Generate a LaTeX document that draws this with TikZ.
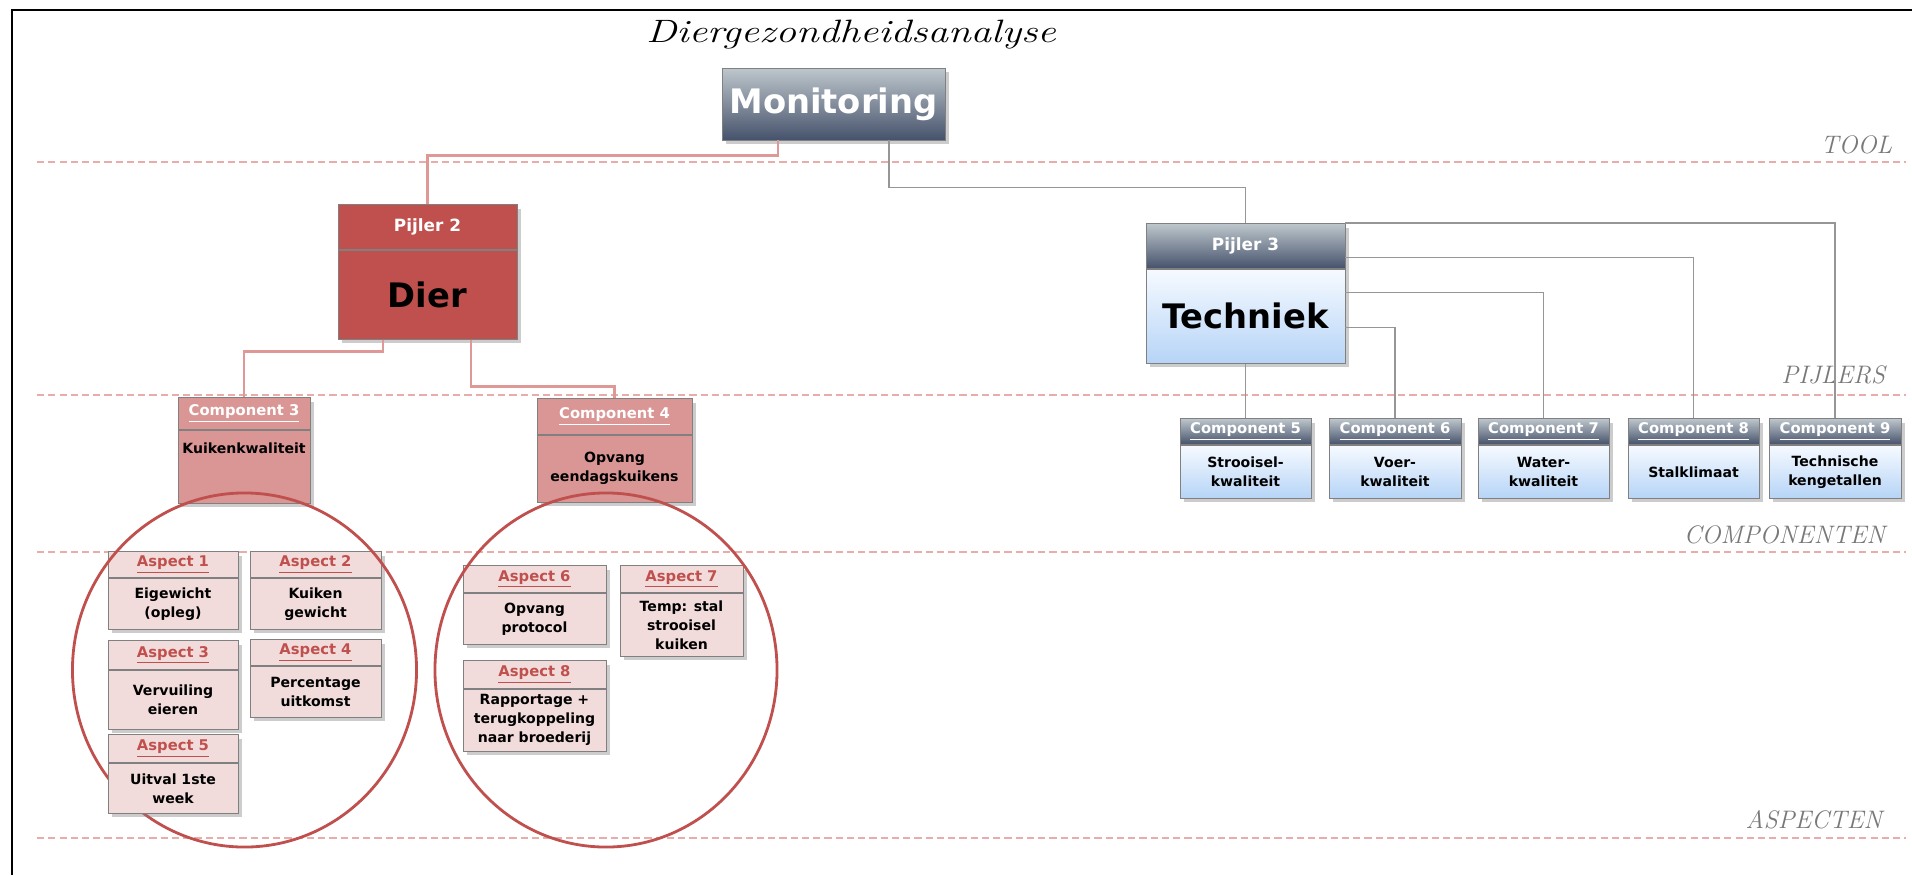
\documentclass[tikz,border=0pt]{standalone}
\usepackage{fontspec}
\newfontfamily\boxfont{DejaVu Sans}
\usepackage{graphicx}
\usepackage{tikz}
\usetikzlibrary{shadows}
\definecolor{dierred}{RGB}{192, 80, 77}
\definecolor{comppink}{RGB}{217, 150, 148}
\definecolor{aspfill}{RGB}{242, 220, 219}
\definecolor{linkred}{RGB}{222, 152, 150}
\definecolor{linkgrey}{RGB}{150, 150, 150}
\definecolor{dashred}{RGB}{232, 172, 170}
\definecolor{slatetop}{RGB}{190, 199, 204}
\definecolor{slatebot}{RGB}{70, 82, 108}
\definecolor{bluetop}{RGB}{246, 250, 255}
\definecolor{bluebot}{RGB}{182, 212, 247}
\definecolor{boxline}{RGB}{128, 128, 128}
\definecolor{tiergray}{RGB}{120, 120, 120}
\newlength\pxu
\setlength\pxu{0.025cm}

\tikzset{
  wh/.style 2 args={minimum width=#1*\pxu, minimum height=#2*\pxu},
  panel/.style={draw=boxline, line width=0.6pt, align=center, inner sep=1pt, anchor=north,
    drop shadow={opacity=0.4, shadow xshift=3pt, shadow yshift=-3pt}},
  slate/.style={top color=slatetop, bottom color=slatebot},
  sky/.style={top color=bluetop, bottom color=bluebot},
  hugefont/.style={font=\boxfont\bfseries\fontsize{24}{28}\selectfont},
  midfont/.style={font=\boxfont\bfseries\fontsize{12}{14}\selectfont},
  hdrfont/.style={font=\boxfont\bfseries\fontsize{10.5}{12}\selectfont},
  txtfont/.style={font=\boxfont\bfseries\fontsize{10}{13.5}\selectfont},
  pinkhead/.style={panel, fill=comppink, text=white, hdrfont},
  pinkbody/.style={panel, fill=comppink, txtfont},
  bluehead/.style={panel, slate, text=white, hdrfont},
  bluebody/.style={panel, sky, txtfont},
  asphead/.style={panel, fill=aspfill, text=dierred, hdrfont},
  aspbody/.style={panel, fill=aspfill, txtfont},
  redlink/.style={draw=linkred, line width=2pt},
  greylink/.style={draw=linkgrey, line width=1pt},
  tierline/.style={draw=dashred, line width=1.4pt, dash pattern=on 5pt off 3pt},
  tier/.style={text=tiergray, anchor=base east, font=\itshape\fontsize{18}{20}\selectfont},
  ring/.style={draw=dierred, line width=2pt}
}

\begin{document}
\begin{tikzpicture}[x=0.025cm, y=-0.025cm]
    \useasboundingbox (0,0) rectangle (1912,875);
    % Frame
    \draw[line width=2pt] (12,875) -- (12,10) -- (1912,10);

    % Title
    \node[font=\itshape\fontsize{23}{26}\selectfont] (title) at (851,35) {\scalebox{1.27}[1]{Diergezondheidsanalyse}};

    % Tier lines and labels
    \draw[tierline] (37,162) -- (1906,162);
    \draw[tierline] (37,395) -- (1906,395);
    \draw[tierline] (37,552) -- (1906,552);
    \draw[tierline] (37,838) -- (1906,838);
    \node[tier] (ltool) at (1897,153) {TOOL};
    \node[tier] (lpijl) at (1890,383) {PIJLERS};
    \node[tier] (lcomp) at (1890,543) {COMPONENTEN};
    \node[tier] (lasp) at (1887,828) {ASPECTEN};

    % Tool
    \node[panel, slate, anchor=center, text=white, hugefont, wh={223}{72}] (mon) at (833.5,104) {Monitoring};

    % Pijler 2 and 3
    \node[panel, fill=dierred, text=white, midfont, wh={179}{45}] (p2h) at (427.5,204) {Pijler 2};
    \node[panel, fill=dierred, hugefont, wh={179}{89}] (p2) at (p2h.south) {Dier};
    \node[panel, slate, text=white, midfont, wh={199}{45}] (p3h) at (1245.5,223) {Pijler 3};
    \node[panel, sky, hugefont, wh={199}{94}] (p3) at (p3h.south) {Techniek};

    % Componenten (Dier)
    \node[pinkhead, wh={132}{32}] (c3h) at (244,397) {\underline{Component 3}};
    \node[pinkbody, wh={132}{73}] (c3) at (c3h.south) {Kuikenkwaliteit\\[13pt]\mbox{}};
    \node[pinkhead, wh={155}{36}] (c4h) at (614.5,398) {\underline{Component 4}};
    \node[pinkbody, wh={155}{67}] (c4) at (c4h.south) {Opvang\\eendagskuikens};

    % Componenten (Techniek)
    \node[bluehead, wh={131}{26}] (b5h) at (1245.5,418) {\underline{Component 5}};
    \node[bluebody, wh={131}{53}] (b5) at (b5h.south) {Strooisel-\\kwaliteit};
    \node[bluehead, wh={132}{26}] (b6h) at (1395,418) {\underline{Component 6}};
    \node[bluebody, wh={132}{53}] (b6) at (b6h.south) {Voer-\\kwaliteit};
    \node[bluehead, wh={131}{26}] (b7h) at (1543.5,418) {\underline{Component 7}};
    \node[bluebody, wh={131}{53}] (b7) at (b7h.south) {Water-\\kwaliteit};
    \node[bluehead, wh={131}{26}] (b8h) at (1693.5,418) {\underline{Component 8}};
    \node[bluebody, wh={131}{53}] (b8) at (b8h.south) {Stalklimaat};
    \node[bluehead, wh={132}{26}] (b9h) at (1835,418) {\underline{Component 9}};
    \node[bluebody, wh={132}{53}] (b9) at (b9h.south) {Technische\\kengetallen};

    % Aspecten
    \node[asphead, wh={130}{26}] (a1h) at (173,551) {\underline{Aspect 1}};
    \node[aspbody, wh={130}{51}] (a1) at (a1h.south) {Eigewicht\\(opleg)};
    \node[asphead, wh={131}{26}] (a2h) at (315.5,551) {\underline{Aspect 2}};
    \node[aspbody, wh={131}{51}] (a2) at (a2h.south) {Kuiken\\gewicht};
    \node[asphead, wh={130}{29}] (a3h) at (173,640) {\underline{Aspect 3}};
    \node[aspbody, wh={130}{59}] (a3) at (a3h.south) {Vervuiling\\eieren};
    \node[asphead, wh={131}{26}] (a4h) at (315.5,639) {\underline{Aspect 4}};
    \node[aspbody, wh={131}{51}] (a4) at (a4h.south) {Percentage\\uitkomst};
    \node[asphead, wh={143}{27}] (a6h) at (534.5,565) {\underline{Aspect 6}};
    \node[aspbody, wh={143}{51}] (a6) at (a6h.south) {Opvang\\protocol};
    \node[asphead, wh={123}{27}] (a7h) at (681.5,565) {\underline{Aspect 7}};
    \node[aspbody, wh={123}{63}] (a7) at (a7h.south) {Temp: stal\\strooisel\\kuiken};
    \node[asphead, wh={143}{28}] (a8h) at (534.5,660) {\underline{Aspect 8}};
    \node[aspbody, wh={143}{62}] (a8) at (a8h.south) {Rapportage +\\terugkoppeling\\naar broederij};

    % Links
    \draw[redlink] ([xshift=-55.5*\pxu]mon.south) -- ++(0,15) -| (p2h.north);
    \draw[greylink] ([xshift=55.5*\pxu]mon.south) -- ++(0,47) -| (p3h.north);
    \draw[redlink] ([xshift=-44.5*\pxu]p2.south) -- ++(0,12) -| (c3h.north);
    \draw[redlink] ([xshift=43.5*\pxu]p2.south) -- ++(0,47) -| (c4h.north);
    \draw[greylink] (p3.south) -- (b5h.north);
    \draw[greylink] ([yshift=-11*\pxu]p3.east) -| (b6h.north);
    \draw[greylink] ([yshift=24*\pxu]p3.east) -| (b7h.north);
    \draw[greylink] ([yshift=-11.5*\pxu]p3h.east) -| (b8h.north);
    \draw[greylink] (p3h.north east) -| (b9h.north);

    % Rings round the aspects
    \draw[ring] (244.5,670) ellipse [x radius=4.3cm, y radius=4.425cm];
    \draw[ring] (606,670) ellipse [x radius=4.275cm, y radius=4.425cm];
    \node[asphead, wh={130}{28}] (a5h) at (173,734) {\underline{Aspect 5}};
    \node[aspbody, wh={130}{50}] (a5) at (a5h.south) {Uitval 1ste\\week};
\end{tikzpicture}
\end{document}
